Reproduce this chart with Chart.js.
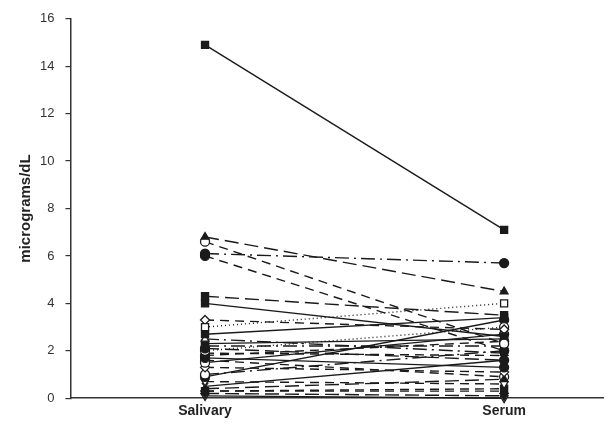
<!DOCTYPE html>
<html>
<head>
<meta charset="utf-8">
<script src="https://cdn.jsdelivr.net/npm/chart.js@4/dist/chart.umd.min.js"></script>
<style>
  body { margin: 0; background: #fff; }
  #wrap { width: 610px; height: 426px; }
</style>
</head>
<body>
<div id="wrap"><canvas id="pairChart"></canvas></div>
<script>
// Categories (x positions 0 and 1)
const categories = ['Salivary', 'Serum'];
const yTicks = [0, 2, 4, 6, 8, 10, 12, 14, 16];

// One value pair per subject: salivary, serum
const salivary = [14.9, 6.8, 6.6, 6.1, 6.0, 4.3, 4.0, 3.0, 3.3, 2.7, 2.5, 2.2, 2.1, 2.0, 1.9,
                  1.8, 1.7, 1.5, 1.3, 1.0, 0.9, 0.7, 0.5, 0.4, 0.3, 0.3, 0.2, 0.1, 2.3, 1.6];
const serum    = [7.1, 4.5, 2.3, 5.7, 2.0, 3.5, 2.6, 4.0, 2.9, 3.4, 1.9, 2.2, 1.6, 3.0, 1.8,
                  2.4, 1.3, 2.7, 1.1, 2.0, 3.3, 0.6, 1.6, 0.8, 0.4, 0.3, 0.1, 0.0, 2.5, 0.9];

// marker shape, filled?, line style for each subject
const markers = ['rect', 'triangle', 'circle', 'circle', 'circle', 'rect', 'rect', 'rect', 'rectRot', 'rect',
                 'triangle', 'rect', 'circle', 'circle', 'crossRot', 'circle', 'circle', 'circle', 'rectRot', 'circle',
                 'circle', 'triangleDown', 'crossRot', 'triangle', 'rect', 'triangle', 'triangleDown', 'triangleDown', 'rect', 'circle'];
const filled = [1, 1, 0, 1, 1, 1, 1, 0, 0, 1, 0, 1, 1, 0, 1, 1, 1, 0, 0, 0, 1, 0, 1, 1, 1, 0, 1, 0, 1, 0];
const lineStyles = ['solid', 'long', 'dash', 'dashdot', 'dash', 'long', 'solid', 'dot', 'dash', 'solid',
                    'dashdot', 'dashdot', 'long', 'dot', 'dash', 'dash', 'solid', 'solid', 'dash', 'dashdot',
                    'solid', 'dash', 'solid', 'long', 'dash', 'dash', 'long', 'solid', 'solid', 'dash'];

const dashMap = {
  solid: [],
  long: [14, 6],
  dash: [9, 6],
  dashdot: [14, 5, 2, 5],
  dot: [1, 3]
};

const datasets = salivary.map((s, i) => {
  const shape = markers[i] === 'triangleDown' ? 'triangle' : markers[i];
  return {
    data: [{ x: 0, y: s }, { x: 1, y: serum[i] }],
    borderColor: '#1a1a1a',
    borderWidth: 1.4,
    borderDash: dashMap[lineStyles[i]],
    pointStyle: shape,
    pointRotation: markers[i] === 'triangleDown' ? 180 : 0,
    pointRadius: shape === 'rect' ? 5 : 4.5,
    pointBorderWidth: 1.3,
    pointBorderColor: '#1a1a1a',
    pointBackgroundColor: filled[i] ? '#1a1a1a' : '#ffffff',
    clip: false
  };
});

new Chart(document.getElementById('pairChart'), {
  type: 'line',
  data: { datasets: datasets },
  options: {
    responsive: true,
    maintainAspectRatio: false,
    animation: false,
    events: [],
    layout: { padding: { top: 17, right: 5, bottom: 1, left: 17 } },
    plugins: { legend: { display: false }, tooltip: { enabled: false } },
    scales: {
      x: {
        type: 'linear',
        min: -0.45,
        max: 1.333,
        afterBuildTicks: axis => { axis.ticks = categories.map((c, i) => ({ value: i })); },
        ticks: {
          callback: v => categories[v],
          color: '#222',
          font: { family: 'Arial, "Liberation Sans"', size: 14, weight: 'bold' },
          padding: 5,
          maxRotation: 0,
          autoSkip: false
        },
        grid: { display: false, drawTicks: false },
        border: { display: true, color: '#333', width: 1.5 }
      },
      y: {
        min: 0,
        max: 16,
        afterBuildTicks: axis => { axis.ticks = yTicks.map(v => ({ value: v })); },
        ticks: {
          color: '#333',
          font: { family: 'Arial, "Liberation Sans"', size: 13 },
          padding: 11
        },
        grid: { drawOnChartArea: false, drawTicks: true, tickLength: 5, color: '#333', lineWidth: 1.2 },
        border: { display: true, color: '#333', width: 1.5 },
        title: {
          display: true,
          text: 'micrograms/dL',
          color: '#222',
          font: { family: 'Arial, "Liberation Sans"', size: 15, weight: 'bold' },
          padding: { top: 0, bottom: -6 }
        }
      }
    }
  }
});
</script>
</body>
</html>
